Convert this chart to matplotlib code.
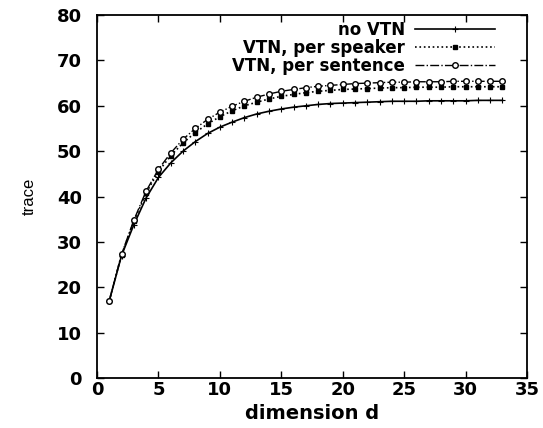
import matplotlib
matplotlib.use("Agg")
import matplotlib.pyplot as plt

dims = list(range(1, 34))
no_vtn = [17.0, 27.0, 33.8, 39.7, 44.2, 47.4, 50.0, 52.1, 53.9, 55.3, 56.4, 57.4, 58.2,
          58.8, 59.3, 59.7, 60.0, 60.3, 60.5, 60.6, 60.7, 60.8, 60.9, 61.0, 61.0,
          61.0, 61.1, 61.1, 61.1, 61.1, 61.2, 61.2, 61.2]
per_speaker = [17.0, 27.2, 34.5, 40.8, 45.5, 49.0, 51.8, 54.1, 56.0, 57.6, 58.9, 60.0,
               60.8, 61.5, 62.1, 62.5, 62.9, 63.2, 63.4, 63.6, 63.7, 63.8, 63.9, 64.0,
               64.0, 64.1, 64.1, 64.1, 64.2, 64.2, 64.2, 64.2, 64.2]
per_sentence = [17.0, 27.3, 34.8, 41.2, 46.0, 49.6, 52.6, 55.0, 57.0, 58.6, 59.9, 61.0,
                61.9, 62.6, 63.2, 63.6, 64.0, 64.3, 64.5, 64.7, 64.9, 65.0, 65.1, 65.2,
                65.2, 65.3, 65.3, 65.3, 65.4, 65.4, 65.4, 65.4, 65.4]

fig = plt.figure(figsize=(5.43, 4.28), dpi=100)
ax = fig.add_axes([0.1786, 0.1168, 0.792, 0.848])

ax.plot(dims, no_vtn, color='black', linestyle='-', linewidth=1.2,
        marker='+', markersize=4, markeredgewidth=0.8, label='no VTN')
ax.plot(dims, per_speaker, color='black', linestyle=':', linewidth=1.2,
        marker='s', markersize=3.5, label='VTN, per speaker')
ax.plot(dims, per_sentence, color='black', linestyle='-.', linewidth=1.0,
        marker='o', markersize=4, markerfacecolor='white', markeredgewidth=1.0,
        label='VTN, per sentence')

ax.set_xlim(0, 35)
ax.set_ylim(0, 80)
ax.set_xticks(range(0, 36, 5))
ax.set_yticks(range(0, 81, 10))
ax.tick_params(direction='in', top=True, right=True, length=5, width=1,
               labelsize=13)
ax.tick_params(axis='x', pad=2)
ax.tick_params(axis='y', pad=11)
for lab in ax.get_xticklabels() + ax.get_yticklabels():
    lab.set_fontweight('bold')
for s in ax.spines.values():
    s.set_linewidth(1.3)

ax.set_xlabel('dimension d', fontsize=14, fontweight='bold', labelpad=4)
ax.set_ylabel('trace', fontsize=12, family=['Liberation Sans', 'DejaVu Sans'],
              labelpad=14)

leg = ax.legend(loc='upper right', frameon=False, markerfirst=False,
                prop={'size': 12, 'weight': 'bold'}, handlelength=4.8,
                labelspacing=0.0, borderpad=0, borderaxespad=0,
                handletextpad=0.6,
                bbox_to_anchor=(495 / 543, 1 - 21 / 428),
                bbox_transform=fig.transFigure)
for t in leg.get_texts():
    t.set_ha('right')

fig.savefig('out.png', dpi=100)
